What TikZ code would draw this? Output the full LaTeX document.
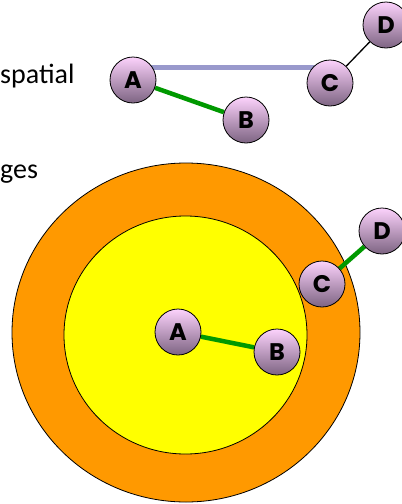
\documentclass[tikz,border=0pt]{standalone}
\usepackage{fontspec}
\setmainfont{Carlito}
\newfontfamily\nodefont{Poppins}
\pgfdeclarelayer{background}
\pgfdeclarelayer{edges}
\pgfsetlayers{background,edges,main}
\definecolor{orangering}{RGB}{255,153,0}
\definecolor{yellowcore}{RGB}{255,255,0}
\definecolor{edgegreen}{RGB}{0,153,0}
\definecolor{edgelav}{RGB}{153,153,204}
\definecolor{nodetop}{RGB}{252,210,252}
\definecolor{nodebot}{RGB}{125,100,130}
\tikzset{
  vert/.style={circle, draw=black, line width=0.8pt, minimum size=46pt, inner sep=0pt,
    top color=nodetop, bottom color=nodebot, font=\nodefont\bfseries\fontsize{24}{24}\selectfont},
  greenedge/.style={draw=edgegreen, line width=4.5pt},
  lavedge/.style={draw=edgelav, line width=5pt},
  thinedge/.style={draw=black, line width=1.3pt},
  label/.style={inner sep=0pt, font=\fontsize{28}{28}\selectfont}
}
\begin{document}
\begin{tikzpicture}[x=1pt,y=-1pt]
\useasboundingbox (0,0) rectangle (402,504);
\clip (0,0) rectangle (402,504);
\begin{pgfonlayer}{background}
\fill[white] (0,0) rectangle (402,504);
\draw[fill=orangering, line width=0.8pt] (186,332.5) ellipse [x radius=174, y radius=169.5];
\draw[fill=yellowcore, line width=0.8pt] (185.5,335) ellipse [x radius=121.5, y radius=119];
\end{pgfonlayer}
% text
\node[label, anchor=base west] (t1) at (0,83) {spatial};
\node[label, anchor=base west] (t2) at (0,178) {ges};
% top graph
\node[vert] (A1) at (133,80) {A};
\node[vert] (B1) at (246,120) {B};
\node[vert] (C1) at (330,83) {C};
\node[vert] (D1) at (386,25) {D};
% bottom graph
\node[vert] (A2) at (178,332) {A};
\node[vert] (B2) at (277,352) {B};
\node[vert] (C2) at (322,284) {C};
\node[vert] (D2) at (382,231) {D};
\begin{pgfonlayer}{edges}
\draw[lavedge] ([yshift=13pt]A1.center) -- ([yshift=16pt]C1.center);
\draw[greenedge] (A1) -- (B1);
\draw[thinedge] (C1) -- (D1);
\draw[greenedge] (A2) -- (B2);
\draw[greenedge] (C2) -- (D2);
\end{pgfonlayer}
\end{tikzpicture}
\end{document}
